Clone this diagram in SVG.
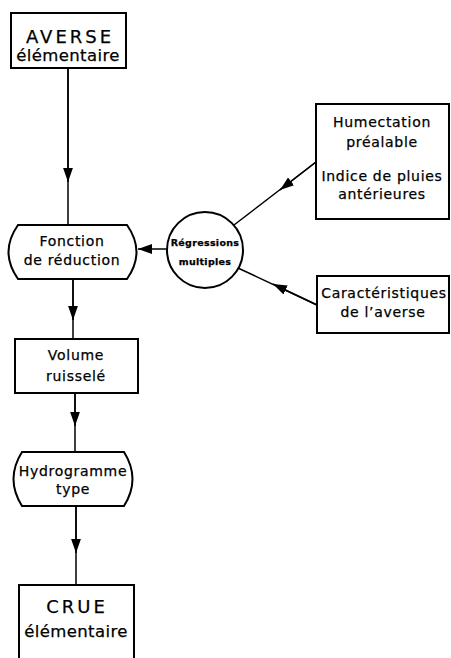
<svg xmlns="http://www.w3.org/2000/svg" width="451" height="658" viewBox="0 0 451 658">
<defs>
<style>
.b{fill:none;stroke:#000;stroke-width:2}
.l{fill:none;stroke:#000;stroke-width:1.5}
.t{font-family:"DejaVu Sans","Liberation Sans",sans-serif;fill:#000;text-anchor:middle;stroke:#000;stroke-width:0.25}
.m{font-size:14px;letter-spacing:0.7px}
.big{font-size:18px;letter-spacing:3px}
.e{font-size:16.5px;letter-spacing:0.4px}
.s{font-size:9.5px;font-weight:bold;letter-spacing:0.3px}
</style>
<marker id="ah2" viewBox="0 0 10 10" refX="10" refY="5" markerWidth="14" markerHeight="14" markerUnits="userSpaceOnUse" orient="auto">
<path d="M0,1.5 L10,5 L0,8.5 Z" fill="#000"/>
</marker>
</defs>
<rect width="451" height="658" fill="#fff"/>
<g id="connectors">
<line class="l" x1="68" y1="68" x2="68" y2="225"/>
<line class="l" x1="68" y1="68" x2="68" y2="182" marker-end="url(#ah2)"/>
<line class="l" x1="73" y1="279" x2="73" y2="338"/>
<line class="l" x1="73" y1="279" x2="73" y2="320" marker-end="url(#ah2)"/>
<line class="l" x1="75" y1="393" x2="75" y2="452"/>
<line class="l" x1="75" y1="393" x2="75" y2="426" marker-end="url(#ah2)"/>
<line class="l" x1="76" y1="505" x2="76" y2="585"/>
<line class="l" x1="76" y1="505" x2="76" y2="553" marker-end="url(#ah2)"/>
<line class="l" x1="167" y1="249" x2="138" y2="249" marker-end="url(#ah2)"/>
<line class="l" x1="316" y1="162" x2="234" y2="225"/>
<line class="l" x1="316" y1="162" x2="280" y2="190" marker-end="url(#ah2)"/>
<line class="l" x1="317" y1="305" x2="238" y2="268"/>
<line class="l" x1="317" y1="305" x2="273" y2="284" marker-end="url(#ah2)"/>
</g>
<g id="averse">
<rect class="b" x="11" y="13" width="115" height="55"/>
<text class="t big" x="70" y="43">AVERSE</text>
<text class="t e" x="68" y="61">élémentaire</text>
</g>
<g id="fonction">
<path class="b" d="M18,225 L127,225 Q146,252 127,279 L18,279 Q-1,252 18,225 Z"/>
<text class="t m" x="72" y="246">Fonction</text>
<text class="t m" x="72" y="265">de réduction</text>
</g>
<g id="regressions">
<circle class="b" cx="205" cy="250" r="38"/>
<text class="t s" x="205" y="246">Régressions</text>
<text class="t s" x="205" y="265">multiples</text>
</g>
<g id="humectation">
<rect class="b" x="316" y="104" width="133" height="115"/>
<text class="t m" x="382" y="127">Humectation</text>
<text class="t m" x="382" y="147">préalable</text>
<text class="t m" x="382" y="181">Indice de pluies</text>
<text class="t m" x="382" y="199">antérieures</text>
</g>
<g id="caracteristiques">
<rect class="b" x="317" y="276" width="132" height="57"/>
<text class="t m" x="384" y="298">Caractéristiques</text>
<text class="t m" x="383" y="317">de l’averse</text>
</g>
<g id="volume">
<rect class="b" x="15" y="339" width="123" height="54"/>
<text class="t m" x="76" y="360">Volume</text>
<text class="t m" x="76" y="381">ruisselé</text>
</g>
<g id="hydrogramme">
<path class="b" d="M22,452 L124,452 Q141,479 124,506 L22,506 Q5,479 22,452 Z"/>
<text class="t m" x="73" y="476">Hydrogramme</text>
<text class="t m" x="73" y="494">type</text>
</g>
<g id="crue">
<path class="b" d="M19,660 L19,585 L134,585 L134,660"/>
<text class="t big" x="77" y="613" letter-spacing="1.5">CRUE</text>
<text class="t e" x="76" y="637">élémentaire</text>
</g>
</svg>
